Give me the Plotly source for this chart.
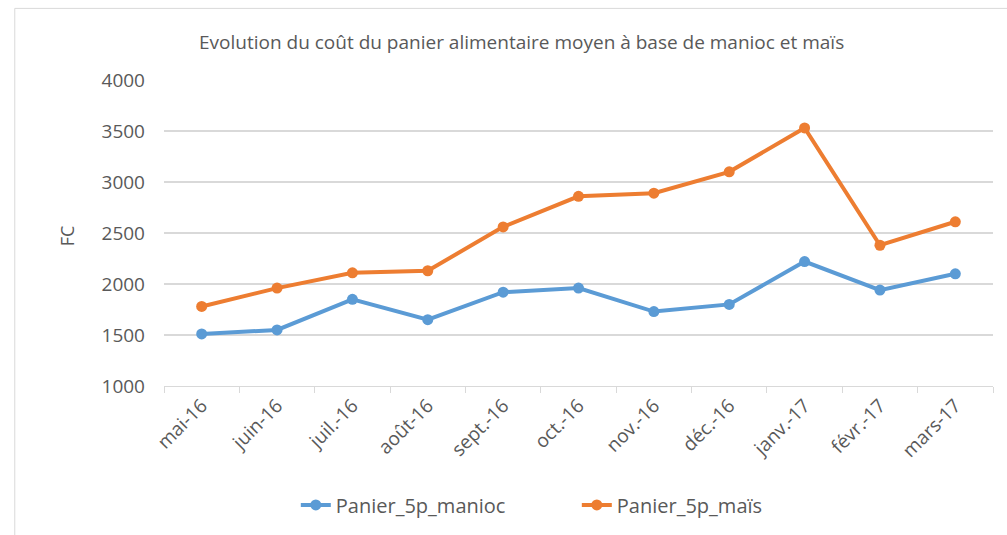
import plotly.graph_objects as go

months = ["mai-16", "juin-16", "juil.-16", "août-16", "sept.-16", "oct.-16",
          "nov.-16", "déc.-16", "janv.-17", "févr.-17", "mars-17"]
manioc = [1510, 1550, 1850, 1650, 1920, 1960, 1730, 1800, 2220, 1940, 2100]
mais = [1780, 1960, 2110, 2130, 2560, 2860, 2890, 3100, 3530, 2380, 2610]

blue = "#5B9BD5"
orange = "#ED7D31"
txt = "#595959"
font = "Open Sans"

fig = go.Figure()
fig.add_trace(go.Scatter(x=months, y=manioc, name="Panier_5p_manioc", mode="lines+markers",
                         line=dict(color=blue, width=4), marker=dict(color=blue, size=11)))
fig.add_trace(go.Scatter(x=months, y=mais, name="Panier_5p_maïs", mode="lines+markers",
                         line=dict(color=orange, width=4), marker=dict(color=orange, size=11)))

fig.update_layout(
    width=1007, height=535,
    margin=dict(l=164, r=14, t=80, b=148),
    paper_bgcolor="white", plot_bgcolor="white",
    font=dict(family=font, color=txt, size=18),
    title=dict(text="Evolution du coût du panier alimentaire moyen à base de manioc et maïs",
               x=0.518, xanchor="center", y=0.921, yanchor="middle",
               font=dict(size=19, color=txt, family=font)),
    showlegend=True,
    legend=dict(orientation="h", x=0.159, xanchor="left", y=-0.384, yanchor="middle",
                font=dict(size=20, color=txt), entrywidth=236, entrywidthmode="pixels",
                bgcolor="rgba(0,0,0,0)"),
    xaxis=dict(type="category", range=[-0.5, len(months) - 0.5], tickangle=-45,
               showgrid=False, showline=True,
               linecolor="#D9D9D9", linewidth=1, ticks="outside", tickson="boundaries",
               tickcolor="#D9D9D9", ticklen=6, tickfont=dict(size=19, color=txt),
               automargin=False),
    yaxis=dict(range=[1000, 4000], dtick=500, showgrid=True, gridcolor="#D9D9D9",
               gridwidth=1.5, zeroline=False, showline=False, ticks="",
               tickfont=dict(size=19, color=txt), ticklabelstandoff=18,
               automargin=False),
    annotations=[dict(text="FC", xref="paper", yref="paper", x=-0.117, y=0.489,
                      xanchor="center", yanchor="middle", textangle=-90, showarrow=False,
                      font=dict(size=18, color=txt))],
    shapes=[dict(type="rect", xref="paper", yref="paper", x0=-0.18, x1=1.03, y0=-0.6, y1=1.234,
                 line=dict(color="#D9D9D9", width=1), fillcolor="rgba(0,0,0,0)", layer="below")],
)

fig.write_html("out.html", config={"displayModeBar": False},
               post_script="document.body.style.margin='0';document.body.style.overflow='hidden';")
